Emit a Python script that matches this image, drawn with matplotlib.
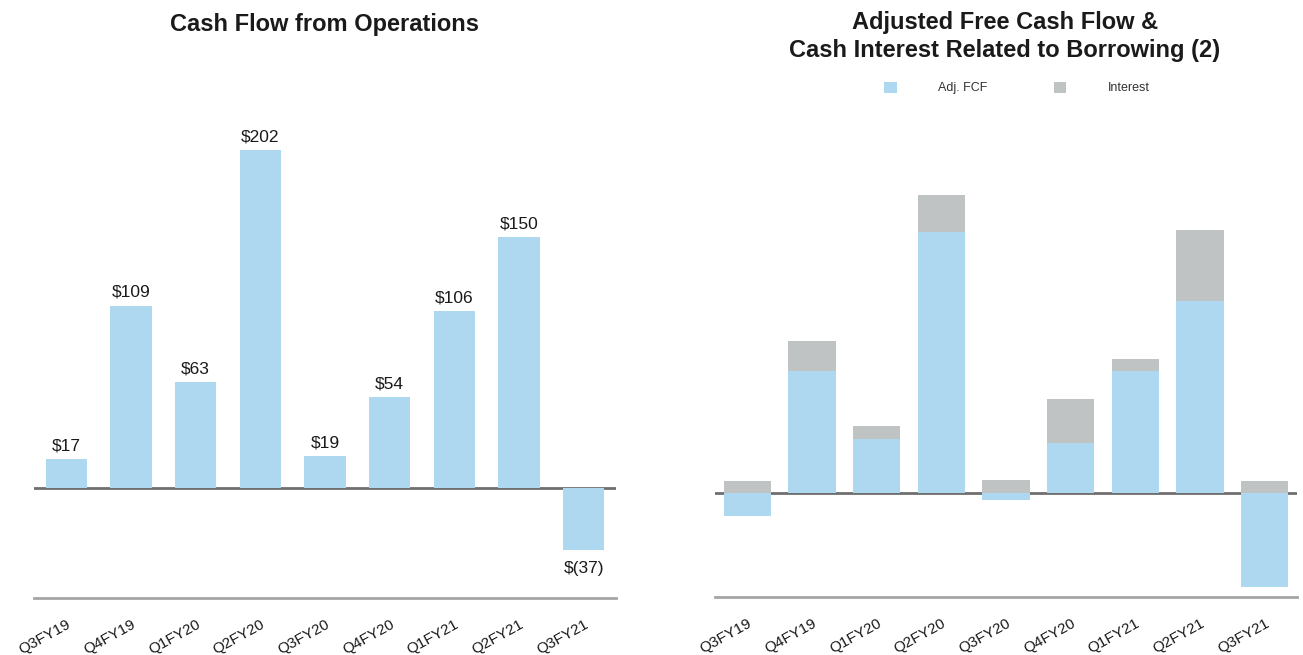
import matplotlib
matplotlib.use("Agg")
import matplotlib.pyplot as plt
import numpy as np
from matplotlib.patches import Patch

plt.rcParams['font.family'] = ['Liberation Sans', 'DejaVu Sans']

quarters = ["Q3FY19", "Q4FY19", "Q1FY20", "Q2FY20", "Q3FY20",
            "Q4FY20", "Q1FY21", "Q2FY21", "Q3FY21"]
cfo = [17, 109, 63, 202, 19, 54, 106, 150, -37]
adj_fcf = [-14, 73, 32, 156, -4, 30, 73, 115, -56]
interest = [7, 18, 8, 22, 8, 26, 7, 42, 7]

BLUE = "#AED8EF"
GRAY = "#BFC3C4"
ZERO = "#6F6F6F"
BASE = "#A5A5A5"
TXT = "#1A1A1A"

W, H = 1303, 655
fig = plt.figure(figsize=(W / 100, H / 100), dpi=100)

def box(x0, x1, ytop, ybot):
    return [x0 / W, (H - ybot) / H, (x1 - x0) / W, (ybot - ytop) / H]

def fmt(v):
    return f"${v}" if v >= 0 else f"$({-v})"

def style(ax):
    for s in ["top", "left", "right"]:
        ax.spines[s].set_visible(False)
    ax.spines["bottom"].set_color(BASE)
    ax.spines["bottom"].set_linewidth(2)
    ax.set_yticks([])
    ax.set_xlim(-0.5, 8.5)
    ax.set_xticks(np.arange(len(quarters)))
    ax.set_xticklabels(quarters, rotation=29, ha="right", va="top",
                       rotation_mode="anchor", fontsize=11, color=TXT)
    ax.tick_params(axis="x", length=0, pad=14)
    ax.axhline(0, color=ZERO, lw=2, zorder=1)

# Left panel
ax1 = fig.add_axes(box(34, 616, 100, 598))
x = np.arange(len(quarters))
ax1.bar(x, cfo, width=0.64, color=BLUE, zorder=2)
ax1.set_ylim(-66, 232)
style(ax1)
for xi, v in zip(x, cfo):
    if v >= 0:
        ax1.annotate(fmt(v), (xi, v), xytext=(0, 4), textcoords="offset points",
                     ha="center", va="bottom", fontsize=12.5, color=TXT)
    else:
        ax1.annotate(fmt(v), (xi, v), xytext=(0, -8), textcoords="offset points",
                     ha="center", va="top", fontsize=12.5, color=TXT)
fig.text(325 / W, 1 - 24 / H, "Cash Flow from Operations", ha="center",
         va="center", fontsize=17, fontweight="bold", color=TXT)

# Right panel
ax2 = fig.add_axes(box(715, 1297, 100, 597))
fcf = np.array(adj_fcf)
itr = np.array(interest)
ax2.bar(x, fcf, width=0.73, color=BLUE, zorder=2, label="Adj. FCF")
ax2.bar(x, itr, bottom=np.maximum(fcf, 0), width=0.73, color=GRAY, zorder=2,
        label="Interest")
ax2.set_ylim(-62.2, 235)
style(ax2)
fig.text(1005 / W, 1 - 22 / H, "Adjusted Free Cash Flow &", ha="center",
         va="center", fontsize=17, fontweight="bold", color=TXT)
fig.text(1005 / W, 1 - 51 / H, "Cash Interest Related to Borrowing (2)",
         ha="center", va="center", fontsize=17, fontweight="bold", color=TXT)
handles = [Patch(facecolor=BLUE, edgecolor="none"),
           Patch(facecolor=GRAY, edgecolor="none")]
leg = fig.legend(handles, ["Adj. FCF", "Interest"], loc="center",
                 bbox_to_anchor=(1017 / W, 1 - 88 / H), ncol=2, frameon=False,
                 fontsize=9, handlelength=1.0, handleheight=1.0,
                 handletextpad=3.3, columnspacing=5.3)
for t in leg.get_texts():
    t.set_color("#333333")

fig.savefig("out.png", dpi=100)
